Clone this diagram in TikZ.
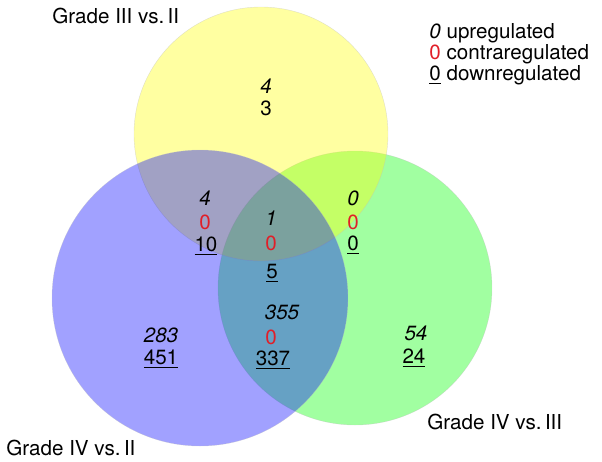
\documentclass[tikz,border=0pt]{standalone}
\usepackage{fontspec}
\setmainfont{TeX Gyre Heros}
\definecolor{cred}{RGB}{225,30,40}
\definecolor{cyel}{RGB}{255,255,0}
\definecolor{cblu}{RGB}{0,0,255}
\definecolor{cgrn}{RGB}{0,255,0}
\begin{document}
\begin{tikzpicture}[x=0.5pt,y=-0.5pt,
  font=\fontsize{10.3}{12}\selectfont,
  num/.style={anchor=base, inner sep=0pt},
  up/.style={num, font=\fontsize{10.3}{12}\selectfont\itshape},
  contra/.style={num, text=cred},
  ttl/.style={anchor=base west, inner sep=0pt},
  venn/.style={fill opacity=0.37, draw=black!25, draw opacity=0.5, line width=0.2pt}]
\useasboundingbox (0,0) rectangle (602,462);
% circles
\path[venn, fill=cgrn] (355,288) circle[radius=68.5pt];
\path[venn, fill=cyel] (261,134) circle[radius=63.5pt];
\path[venn, fill=cblu] (200,298) circle[radius=74pt];
% titles
\node[ttl] (t1) at (52,23) {Grade III vs.\,II};
\node[ttl] (t2) at (427,429) {Grade IV vs.\,III};
\node[ttl] (t3) at (6,455) {Grade IV vs.\,II};
% legend
\node[ttl] (l1) at (429,38.5) {\itshape 0\upshape{} upregulated};
\node[ttl] (l2) at (429,59.5) {\textcolor{cred}{0} contraregulated};
\node[ttl] (l3) at (429,80) {\underline{0} downregulated};
% yellow only
\node[up] (y1) at (266,93.5) {4};
\node[num] (y2) at (266,115.5) {3};
% blue-yellow
\node[up] (by1) at (205,205.5) {4};
\node[contra] (by2) at (205,229.5) {0};
\node[num] (by3) at (206,251.5) {\underline{10}};
% center
\node[up] (c1) at (271,225.5) {1};
\node[contra] (c2) at (271,250.5) {0};
\node[num] (c3) at (272,278.5) {\underline{5}};
% yellow-green
\node[up] (yg1) at (353,205.5) {0};
\node[contra] (yg2) at (353,229.5) {0};
\node[num] (yg3) at (353,250.5) {\underline{0}};
% blue-green
\node[up] (bg1) at (282,319.5) {355};
\node[contra] (bg2) at (271,344.5) {0};
\node[num] (bg3) at (273,365.5) {\underline{337}};
% blue only
\node[up] (b1) at (161,342.5) {283};
\node[num] (b2) at (161,364.5) {\underline{451}};
% green only
\node[up] (g1) at (416,340.5) {54};
\node[num] (g2) at (414,363.5) {\underline{24}};
\end{tikzpicture}
\end{document}
